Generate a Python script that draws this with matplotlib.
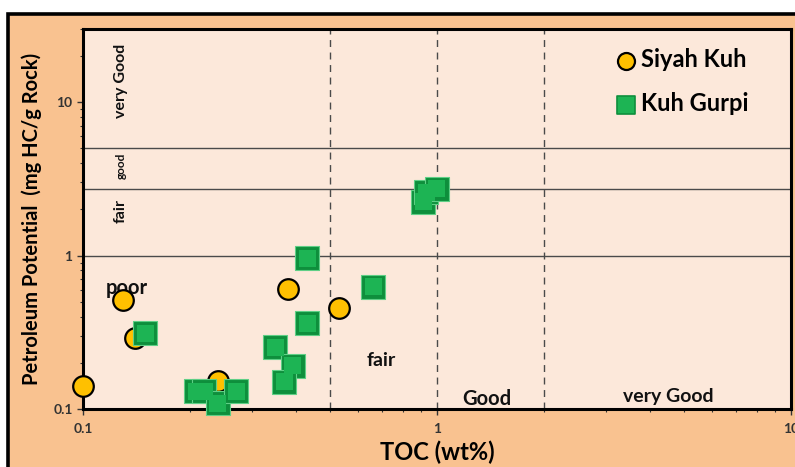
import matplotlib
matplotlib.use("Agg")
import matplotlib.pyplot as plt
from matplotlib.patches import Rectangle
from matplotlib.ticker import LogLocator, FixedLocator, FixedFormatter, NullFormatter

# Sample data: TOC (wt%) vs petroleum potential S1+S2 (mg HC/g rock)
siyah_toc = [0.10, 0.13, 0.14, 0.24, 0.38, 0.53]
siyah_pp = [0.142, 0.51, 0.29, 0.152, 0.607, 0.454]

gurpi_toc = [0.15, 0.209, 0.220, 0.240, 0.271, 0.349, 0.391, 0.370, 0.430, 0.430, 0.661, 0.915, 0.931, 0.998]
gurpi_pp = [0.312, 0.131, 0.131, 0.109, 0.131, 0.252, 0.191, 0.151, 0.362, 0.96, 0.628, 2.25, 2.58, 2.72]

# Classification boundaries
toc_bounds = [0.5, 1.0, 2.0]
pp_bounds = [1.0, 2.7, 5.0]

x_ticks = [0.1, 1, 10]
x_tick_labels = ["0.1", "1", "10"]
y_ticks = [0.1, 1, 10]
y_tick_labels = ["0.1", "1", "10"]

FONT = "Lato"
plt.rcParams["font.family"] = [FONT, "DejaVu Sans"]
plt.rcParams["font.weight"] = "bold"

W, H = 795, 467
fig = plt.figure(figsize=(W / 100, H / 100), dpi=100)
fig.patch.set_facecolor("white")

# Orange panel with a heavy black frame, on a background layer
bg = fig.add_axes([0, 0, 1, 1], zorder=0)
bg.set_xlim(0, W)
bg.set_ylim(H, 0)
bg.axis("off")
bg.add_patch(Rectangle((8, 14), W + 20, H + 20, facecolor="#F9C290",
                       edgecolor="black", linewidth=2.6))

ax = fig.add_axes([83 / W, (H - 409) / H, (791 - 83) / W, (409 - 29) / H], zorder=1)
ax.set_facecolor("#FCE8DA")
ax.set_xscale("log")
ax.set_yscale("log")
ax.set_xlim(0.1, 10)
ax.set_ylim(0.1, 30)

for sp in ax.spines.values():
    sp.set_linewidth(2.2)
    sp.set_color("black")

for v in pp_bounds:
    ax.axhline(v, color="#4a4a4a", linewidth=1.0, zorder=1)
for v in toc_bounds:
    ax.axvline(v, color="#4a4a4a", linewidth=1.0, linestyle=(0, (5, 4)), zorder=1)

ax.xaxis.set_major_locator(FixedLocator(x_ticks))
ax.xaxis.set_major_formatter(FixedFormatter(x_tick_labels))
ax.yaxis.set_major_locator(FixedLocator(y_ticks))
ax.yaxis.set_major_formatter(FixedFormatter(y_tick_labels))
ax.xaxis.set_minor_locator(LogLocator(base=10, subs=range(2, 10)))
ax.yaxis.set_minor_locator(LogLocator(base=10, subs=range(2, 10)))
ax.xaxis.set_minor_formatter(NullFormatter())
ax.yaxis.set_minor_formatter(NullFormatter())
ax.tick_params(which="major", direction="out", length=4, width=1, color="#333333",
               labelsize=10, labelcolor="#333333")
ax.tick_params(which="minor", direction="out", length=2.5, width=0.8, color="#333333")
ax.tick_params(axis="x", pad=6)

# Data points
ax.scatter(siyah_toc, siyah_pp, s=220, marker="o", facecolor="#FFC000",
           edgecolor="black", linewidth=1.6, zorder=4, clip_on=False)
ax.scatter(gurpi_toc, gurpi_pp, s=290, marker="s", facecolor="#0E8F3C",
           edgecolor="#5fcf86", linewidth=0.8, zorder=5, clip_on=False)
ax.scatter(gurpi_toc, gurpi_pp, s=150, marker="s", facecolor="#1DB454",
           edgecolor="none", zorder=6, clip_on=False)

# Zone labels
txt = dict(ha="center", va="center", fontweight="bold", color="#111111")
ax.text(0.128, 13.7, "very Good", rotation=90, fontsize=11.5, **txt)
ax.text(0.128, 3.84, "good", rotation=90, fontsize=8.5, **txt)
ax.text(0.128, 1.94, "fair", rotation=90, fontsize=11.5, **txt)
ax.text(0.133, 0.612, "poor", fontsize=14.5, **txt)
ax.text(0.695, 0.207, "fair", fontsize=14, **txt)
ax.text(1.38, 0.116, "Good", fontsize=14.5, **txt)
ax.text(4.49, 0.120, "very Good", fontsize=14, **txt)

# Legend
h1 = ax.scatter([], [], s=150, marker="o", facecolor="#FFC000", edgecolor="black", linewidth=1.6)
h2 = ax.scatter([], [], s=170, marker="s", facecolor="#1DB454", edgecolor="#0E8F3C", linewidth=1.2)
leg = ax.legend([h1, h2], ["Siyah Kuh", "Kuh Gurpi"], loc="upper left",
                bbox_to_anchor=(0.717, 1.006), frameon=False, handletextpad=0.05,
                handlelength=1.2, labelspacing=0.9,
                prop={"family": FONT, "weight": "bold", "size": 17})

ax.set_xlabel("TOC (wt%)", fontsize=17, fontweight="bold", labelpad=4)
ax.set_ylabel("Petroleum Potential  (mg HC/g Rock)", fontsize=14.5, fontweight="bold", labelpad=8)

fig.savefig("out.png", dpi=100, facecolor=fig.get_facecolor())
